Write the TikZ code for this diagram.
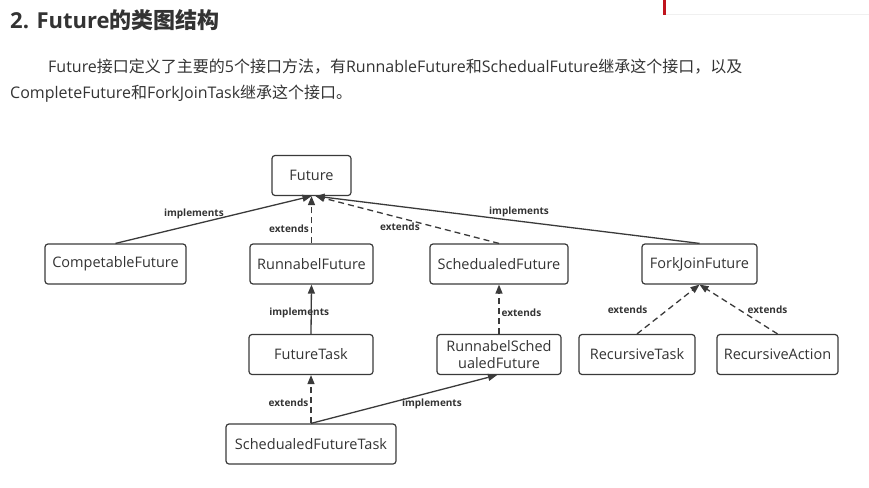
\documentclass[tikz,border=0pt]{standalone}
\usepackage{fontspec}
\setmainfont{Open Sans}
\newfontfamily\cjk{Noto Sans CJK SC}
\usetikzlibrary{arrows.meta}
\definecolor{txt}{HTML}{333333}
\definecolor{linec}{HTML}{3A3A3A}
\definecolor{barred}{HTML}{C0141E}

\begin{document}
\begin{tikzpicture}[x=1pt, y=-1pt,
    cls/.style={draw=linec, line width=1.2pt, rounded corners=3pt,
                minimum height=40pt, inner sep=0pt, align=center,
                font=\fontsize{14.5}{17}\selectfont, text=txt},
    impl/.style={-{Triangle[length=9pt, width=7pt]}, line width=1.3pt, draw=linec},
    ext/.style={impl, dash pattern=on 6pt off 4pt},
    lbl/.style={font=\bfseries\fontsize{10}{11}\selectfont, text=txt, inner sep=2pt},
    para/.style={anchor=base west, inner sep=0pt, text=txt,
                 font=\fontsize{16}{18}\selectfont},
  ]
  \useasboundingbox (0,0) rectangle (869,487);

  % page header and text
  \fill[barred] (663,0) rectangle (666,15);
  \draw[gray!12, line width=1pt] (666,14.5) -- (869,14.5);
  \node[para, font=\bfseries\fontsize{22}{26}\selectfont] (title) at (10,29)
    {2. Future{\cjk 的类图结构}};
  \node[para] (p1) at (48,72)
    {Future{\cjk 接口定义了主要的}5{\cjk 个接口方法，有}RunnableFuture{\cjk 和}SchedualFuture{\cjk 继承这个接口，以及}};
  \node[para] (p2) at (10,98)
    {CompleteFuture{\cjk 和}ForkJoinTask{\cjk 继承这个接口。}};

  % classes
  \node[cls, minimum width=79pt] (future) at (311.5,175.5) {Future};
  \node[cls, minimum width=141pt] (comp) at (115.5,264) {CompetableFuture};
  \node[cls, minimum width=123pt] (runf) at (311.5,264) {RunnabelFuture};
  \node[cls, minimum width=138pt] (schedf) at (499,264) {SchedualedFuture};
  \node[cls, minimum width=115pt] (fork) at (699.5,264) {ForkJoinFuture};
  \node[cls, minimum width=124pt] (ftask) at (311,354.5) {FutureTask};
  \node[cls, minimum width=124pt] (rsf) at (499,354.5) {RunnabelSched\\ualedFuture};
  \node[cls, minimum width=116pt] (rtask) at (637,354.5) {RecursiveTask};
  \node[cls, minimum width=121pt] (raction) at (777.5,354.5) {RecursiveAction};
  \node[cls, minimum width=170pt] (sft) at (311,444) {SchedualedFutureTask};

  % relations
  \draw[impl] (comp.north) -- (future.south) node[pos=0.4, above=3pt, lbl] {implements};
  \draw[ext] (runf.north) -- (future.south) node[pos=0.3, left, lbl] {extends};
  \draw[ext] (schedf.north) -- ([xshift=4pt]future.south) node[pos=0.54, below=2pt, lbl] {extends};
  \draw[impl] (fork.north) -- ([xshift=4pt]future.south) node[pos=0.47, above=2pt, lbl] {implements};
  \draw[impl] (ftask.north) -- (runf.south) node[pos=0.42, xshift=-12pt, lbl] {implements};
  \draw[ext] (rsf.north) -- (schedf.south) node[pos=0.42, right, lbl] {extends};
  \draw[ext] (sft.north) -- (ftask.south) node[pos=0.43, left, lbl] {extends};
  \draw[impl] (sft.north) -- ([xshift=-2pt]rsf.south) node[pos=0.65, below=4pt, lbl] {implements};
  \draw[ext] (rtask.north) -- (fork.south) node[pos=0.48, left=17pt, lbl] {extends};
  \draw[ext] (raction.north) -- (fork.south) node[pos=0.48, right=5pt, lbl] {extends};
\end{tikzpicture}
\end{document}
